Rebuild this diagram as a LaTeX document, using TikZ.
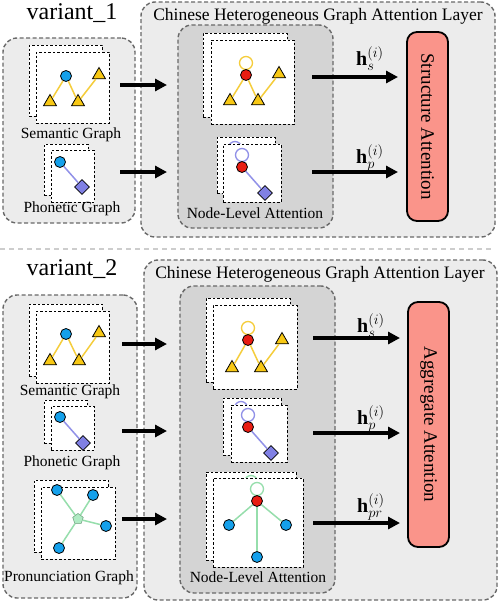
\documentclass[tikz,border=0pt]{standalone}
\usepackage{fontspec}
\setmainfont{Liberation Serif}
\usetikzlibrary{arrows.meta,shapes.geometric}
\definecolor{lgray}{RGB}{236,236,236}
\definecolor{mgray}{RGB}{212,212,212}
\definecolor{dgray}{RGB}{105,105,105}
\definecolor{sepgray}{RGB}{205,205,205}
\definecolor{salmon}{RGB}{250,148,138}
\definecolor{nblue}{RGB}{20,160,235}
\definecolor{nred}{RGB}{232,28,18}
\definecolor{nyel}{RGB}{248,200,20}
\definecolor{eyel}{RGB}{245,205,60}
\definecolor{nlav}{RGB}{128,128,228}
\definecolor{elav}{RGB}{145,145,232}
\definecolor{egrn}{RGB}{150,222,172}
\definecolor{ngrn}{RGB}{175,235,195}
\newcommand{\pbox}[6]{\node[#2, minimum width={(#5)-(#3)}, minimum height={(#6)-(#4)}, inner sep=0pt, outer sep=0pt] (#1) at ({((#3)+(#5))/2},{((#4)+(#6))/2}) {};}
\tikzset{
  lbox/.style={draw=dgray, fill=lgray, line width=1.4pt, dash pattern=on 4pt off 2.5pt, rounded corners=14pt},
  nlbox/.style={draw=dgray, fill=mgray, line width=1.4pt, dash pattern=on 4pt off 2.5pt, rounded corners=14pt},
  attbox/.style={draw=black, fill=salmon, line width=1.8pt, rounded corners=10pt},
  card/.style={draw=black, fill=white, line width=1pt, dash pattern=on 2.5pt off 2pt},
  bn/.style={circle, draw=black, fill=nblue, line width=0.8pt, inner sep=0pt, minimum size=11pt},
  rn/.style={circle, draw=black, fill=nred, line width=0.8pt, inner sep=0pt, minimum size=11pt},
  tri/.style={regular polygon, regular polygon sides=3, draw=black, fill=nyel, line width=0.8pt, inner sep=0pt, minimum size=15pt},
  dia/.style={diamond, aspect=1, draw=black, fill=nlav, line width=0.8pt, inner sep=0pt, minimum width=15pt, minimum height=15pt},
  pent/.style={regular polygon, regular polygon sides=5, draw=egrn!70!black, fill=ngrn, line width=0.5pt, inner sep=0pt, minimum size=11pt},
  yedge/.style={draw=eyel, line width=1.5pt},
  pedge/.style={draw=elav, line width=1.5pt},
  gedge/.style={draw=egrn, line width=1.5pt},
  yloop/.style={draw=eyel, line width=1.3pt},
  ploop/.style={draw=elav, line width=1.3pt},
  gloop/.style={draw=egrn, line width=1.3pt},
  bigarrow/.style={line width=3.2pt, -{Triangle[length=12pt,width=12pt]}},
  lab/.style={font=\fontsize{15.5}{18}\selectfont, inner sep=0pt},
  ttl/.style={font=\fontsize{17.5}{20}\selectfont, inner sep=0pt},
  var/.style={font=\fontsize{24}{28}\selectfont, inner sep=0pt},
  rot/.style={font=\fontsize{19}{22}\selectfont, rotate=-90, inner sep=0pt},
  hl/.style={font=\fontsize{20}{24}\selectfont, inner sep=0pt, anchor=base west}
}
\begin{document}
\begin{tikzpicture}[x=1pt,y=-1pt]
\useasboundingbox (0,0) rectangle (498,603);
% ================= variant 1 =================
\node[var] (var1) at (72,13) {variant\_1};
\pbox{hg1}{lbox}{141}{2}{495}{237}
\pbox{in1}{lbox}{3}{38}{135}{223}
\pbox{nl1}{nlbox}{178}{25}{333}{228}
\pbox{sa}{attbox}{407}{32}{448}{221}
\node[ttl] (hg1t) at (318,16) {Chinese Heterogeneous Graph Attention Layer};
\node[lab] (nl1t) at (255,213) {Node-Level Attention};
\node[rot] (sat) at (sa.center) {Structure Attention};
% input cards
\pbox{c1sb}{card}{29}{45}{102}{116}
\pbox{c1sf}{card}{36}{52}{109}{123}
\pbox{c1pb}{card}{44}{144}{88}{195}
\pbox{c1pf}{card}{51}{150}{94}{202}
\node[lab] (c1sl) at (71,135) {Semantic Graph};
\node[lab] (c1pl) at (72,209) {Phonetic Graph};
\node[bn] (i1b) at (66,76) {};
\node[tri] (i1t1) at (50,102) {};
\node[tri] (i1t2) at (78,102) {};
\node[tri] (i1t3) at (99,75) {};
\draw[yedge] (i1b) -- (i1t1);
\draw[yedge] (i1b) -- (i1t2);
\draw[yedge] (i1t2) -- (i1t3);
\node[bn] (i1pb) at (60,162) {};
\node[dia] (i1pd) at (82,187) {};
\draw[pedge] (i1pb) -- (i1pd);
% node-level cards
\pbox{n1sb}{card}{203}{33}{287}{117}
\pbox{n1sf}{card}{211}{40}{294}{124}
\pbox{n1pb}{card}{217}{137}{275}{193}
\draw[ploop] (235,148) circle[radius=6.5pt];
\pbox{n1pf}{card}{223}{144}{281}{202}
\draw[yloop] (246,63) circle[radius=6.5pt];
\node[rn] (r1s) at (246,75) {};
\node[tri] (r1t1) at (230,101) {};
\node[tri] (r1t2) at (258,101) {};
\node[tri] (r1t3) at (279,74) {};
\draw[yedge] (r1s) -- (r1t1);
\draw[yedge] (r1s) -- (r1t2);
\draw[yedge] (r1t2) -- (r1t3);
\draw[ploop] (242,155) circle[radius=6.5pt];
\node[rn] (r1p) at (242,167) {};
\node[dia] (r1pd) at (265,193) {};
\draw[pedge] (r1p) -- (r1pd);
% arrows
\coordinate (a1s) at (120,85); \coordinate (a1e) at (167,85);
\coordinate (a1ps) at (120,172); \coordinate (a1pe) at (167,172);
\draw[bigarrow] (a1s) -- (a1e);
\draw[bigarrow] (a1ps) -- (a1pe);
\coordinate (o1s) at (312,77); \coordinate (o1p) at (312,172);
\draw[bigarrow, shorten >=9pt] (o1s) -- (o1s -| sa.west);
\draw[bigarrow, shorten >=9pt] (o1p) -- (o1p -| sa.west);
\node[hl] (h1s) at (356,65) {$\mathbf{h}_{s}^{(i)}$};
\node[hl] (h1p) at (356,163) {$\mathbf{h}_{p}^{(i)}$};
% separator
\coordinate (sepL) at (0,249); \coordinate (sepR) at (492,249);
\draw[sepgray, line width=1.5pt, dash pattern=on 5pt off 4pt] (sepL) -- (sepR);
% ================= variant 2 =================
\node[var] (var2) at (72,269) {variant\_2};
\pbox{hg2}{lbox}{144}{260}{497}{600}
\pbox{in2}{lbox}{3}{295}{137}{598}
\pbox{nl2}{nlbox}{180}{286}{335}{593}
\pbox{aa}{attbox}{408}{302}{449}{547}
\node[ttl] (hg2t) at (320,274) {Chinese Heterogeneous Graph Attention Layer};
\node[lab] (nl2t) at (258,577) {Node-Level Attention};
\node[rot] (aat) at (aa.center) {Aggregate Attention};
% input cards
\pbox{c2sb}{card}{29}{304}{102}{376}
\pbox{c2sf}{card}{36}{311}{109}{383}
\pbox{c2pb}{card}{44}{400}{87}{443}
\pbox{c2pf}{card}{51}{406}{94}{450}
\pbox{c2rb}{card}{34}{480}{108}{552}
\pbox{c2rf}{card}{41}{487}{115}{559}
\node[lab] (c2sl) at (70,392) {Semantic Graph};
\node[lab] (c2pl) at (72,463) {Phonetic Graph};
\node[lab] (c2rl) at (69,578) {Pronunciation Graph};
\node[bn] (i2b) at (66,334) {};
\node[tri] (i2t1) at (50,361) {};
\node[tri] (i2t2) at (79,361) {};
\node[tri] (i2t3) at (99,333) {};
\draw[yedge] (i2b) -- (i2t1);
\draw[yedge] (i2b) -- (i2t2);
\draw[yedge] (i2t2) -- (i2t3);
\node[bn] (i2pb) at (60,417) {};
\node[dia] (i2pd) at (83,443) {};
\draw[pedge] (i2pb) -- (i2pd);
\node[pent] (i2c) at (78,519) {};
\node[bn] (i2r1) at (57,490) {};
\node[bn] (i2r2) at (93,495) {};
\node[bn] (i2r3) at (106,526) {};
\node[bn] (i2r4) at (59,548) {};
\draw[gedge] (i2c) -- (i2r1);
\draw[gedge] (i2c) -- (i2r2);
\draw[gedge] (i2c) -- (i2r3);
\draw[gedge] (i2c) -- (i2r4);
% node-level cards
\pbox{n2sb}{card}{206}{298}{290}{382}
\pbox{n2sf}{card}{213}{305}{297}{389}
\pbox{n2pb}{card}{223}{398}{281}{455}
\draw[ploop] (241,408) circle[radius=6.5pt];
\pbox{n2pf}{card}{231}{405}{287}{462}
\pbox{n2rb}{card}{206}{472}{296}{560}
\draw[gloop] (251,482) circle[radius=6.5pt];
\pbox{n2rf}{card}{213}{478}{303}{567}
\draw[yloop] (248,328) circle[radius=6.5pt];
\node[rn] (r2s) at (248,340) {};
\node[tri] (r2t1) at (232,368) {};
\node[tri] (r2t2) at (261,368) {};
\node[tri] (r2t3) at (282,340) {};
\draw[yedge] (r2s) -- (r2t1);
\draw[yedge] (r2s) -- (r2t2);
\draw[yedge] (r2t2) -- (r2t3);
\draw[ploop] (248,415) circle[radius=6.5pt];
\node[rn] (r2p) at (248,427) {};
\node[dia] (r2pd) at (271,453) {};
\draw[pedge] (r2p) -- (r2pd);
\draw[gloop] (257,489) circle[radius=6.5pt];
\node[rn] (r2r) at (257,501) {};
\node[bn] (r2r1) at (229,525) {};
\node[bn] (r2r2) at (286,525) {};
\node[bn] (r2r3) at (257,557) {};
\draw[gedge] (r2r) -- (r2r1);
\draw[gedge] (r2r) -- (r2r2);
\draw[gedge] (r2r) -- (r2r3);
% arrows
\coordinate (a2s) at (122,344); \coordinate (a2se) at (167,344);
\coordinate (a2p) at (122,431); \coordinate (a2pe) at (167,431);
\coordinate (a2r) at (122,519); \coordinate (a2re) at (167,519);
\draw[bigarrow] (a2s) -- (a2se);
\draw[bigarrow] (a2p) -- (a2pe);
\draw[bigarrow] (a2r) -- (a2re);
\coordinate (o2s) at (313,338); \coordinate (o2p) at (313,433); \coordinate (o2r) at (313,523);
\draw[bigarrow, shorten >=8pt] (o2s) -- (o2s -| aa.west);
\draw[bigarrow, shorten >=8pt] (o2p) -- (o2p -| aa.west);
\draw[bigarrow, shorten >=8pt] (o2r) -- (o2r -| aa.west);
\node[hl] (h2s) at (357,332) {$\mathbf{h}_{s}^{(i)}$};
\node[hl] (h2p) at (357,424) {$\mathbf{h}_{p}^{(i)}$};
\node[hl] (h2r) at (357,512) {$\mathbf{h}_{pr}^{(i)}$};
\end{tikzpicture}
\end{document}
